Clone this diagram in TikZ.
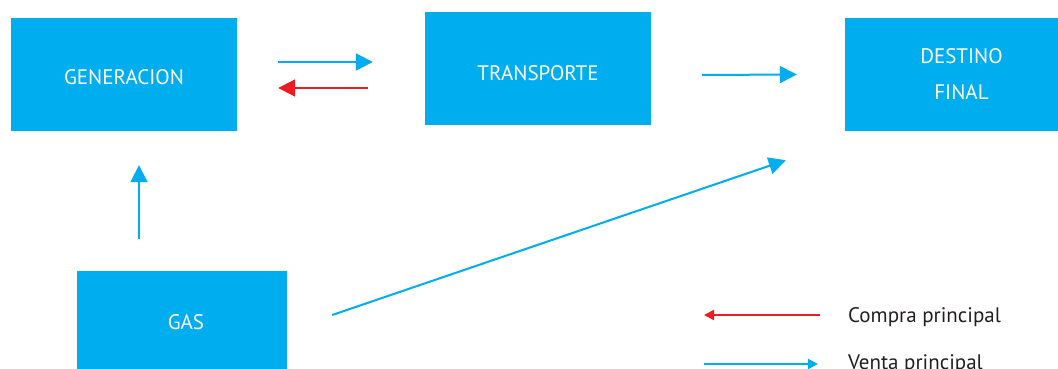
\documentclass[tikz,border=0pt]{standalone}
\usepackage{fontspec}
\setmainfont{PT Sans}
\usepackage{xcolor}
\usepackage{tikz}
\usetikzlibrary{positioning,calc,arrows.meta}

\definecolor{cian}{HTML}{00ADEF}
\definecolor{rojo}{HTML}{ED1C24}
\definecolor{texto}{HTML}{231F20}

\begin{document}
\begin{tikzpicture}[
					x=1pt, y=-1pt,
					caja/.style={
						rectangle, fill=cian, draw=none,
						text=white, align=center, inner sep=0pt,
						font=\fontsize{21}{36}\selectfont
					},
					venta/.style={
						draw=cian, line width=2pt,
						-{Triangle[length=17pt, width=17pt]}
					},
					compra/.style={
						draw=rojo, line width=2pt,
						-{Triangle[length=17pt, width=17pt]}
					},
					ventaley/.style={
						draw=cian, line width=2pt,
						-{Triangle[length=10pt, width=10pt]}
					},
					compraley/.style={
						draw=rojo, line width=2pt,
						-{Triangle[length=10pt, width=10pt]}
					},
					ley/.style={
						anchor=base west, inner sep=0pt, text=texto,
						font=\fontsize{21}{24}\selectfont
					}
					]
					
					\useasboundingbox (0,0) rectangle (1058,369);
					
					% --- CAJAS ---
					\node[caja, minimum width=226pt, minimum height=113pt, text height=21pt] (gen) at (124,74.5) {GENERACION};
					\node[caja, minimum width=226pt, minimum height=113pt, text height=24pt] (trans) at (538,68.5) {TRANSPORTE};
					\node[caja, minimum width=213pt, minimum height=113pt] (dest) at (951.5,74.5) {\hspace*{20pt}DESTINO\\\hspace*{20pt}FINAL};
					\node[caja, minimum width=210pt, minimum height=98pt, text height=19pt] (gas) at (182,320) {\hspace*{8pt}GAS};
					
					% --- FLECHAS ---
					\draw[venta] ([xshift=41pt, yshift=12.5pt]gen.east) -- ([xshift=-52pt, yshift=6.5pt]trans.west);
					\draw[compra] ([xshift=-57pt, yshift=-19.5pt]trans.west) -- ([xshift=41pt, yshift=-13.5pt]gen.east);
					\draw[venta] ([xshift=51pt, yshift=-6.5pt]trans.east) -- ([xshift=-48pt]dest.west);
					\draw[venta] ([xshift=-43pt, yshift=32pt]gas.north) -- ([xshift=15pt, yshift=-34pt]gen.south);
					\draw[venta] ([xshift=45pt, yshift=5pt]gas.east) -- ([xshift=-59pt, yshift=-29pt]dest.south west);
					
					% --- LEYENDA ---
					\node[ley] (lcompra) at (848,322) {Compra principal};
					\node[ley] (lventa) at (848,369) {Venta principal};
					\draw[compraley] ([xshift=-28pt, yshift=7pt]lcompra.base west) -- ([xshift=-144pt, yshift=7pt]lcompra.base west);
					\draw[ventaley] ([xshift=-144pt, yshift=5pt]lventa.base west) -- ([xshift=-30pt, yshift=5pt]lventa.base west);
					
				\end{tikzpicture}
\end{document}
